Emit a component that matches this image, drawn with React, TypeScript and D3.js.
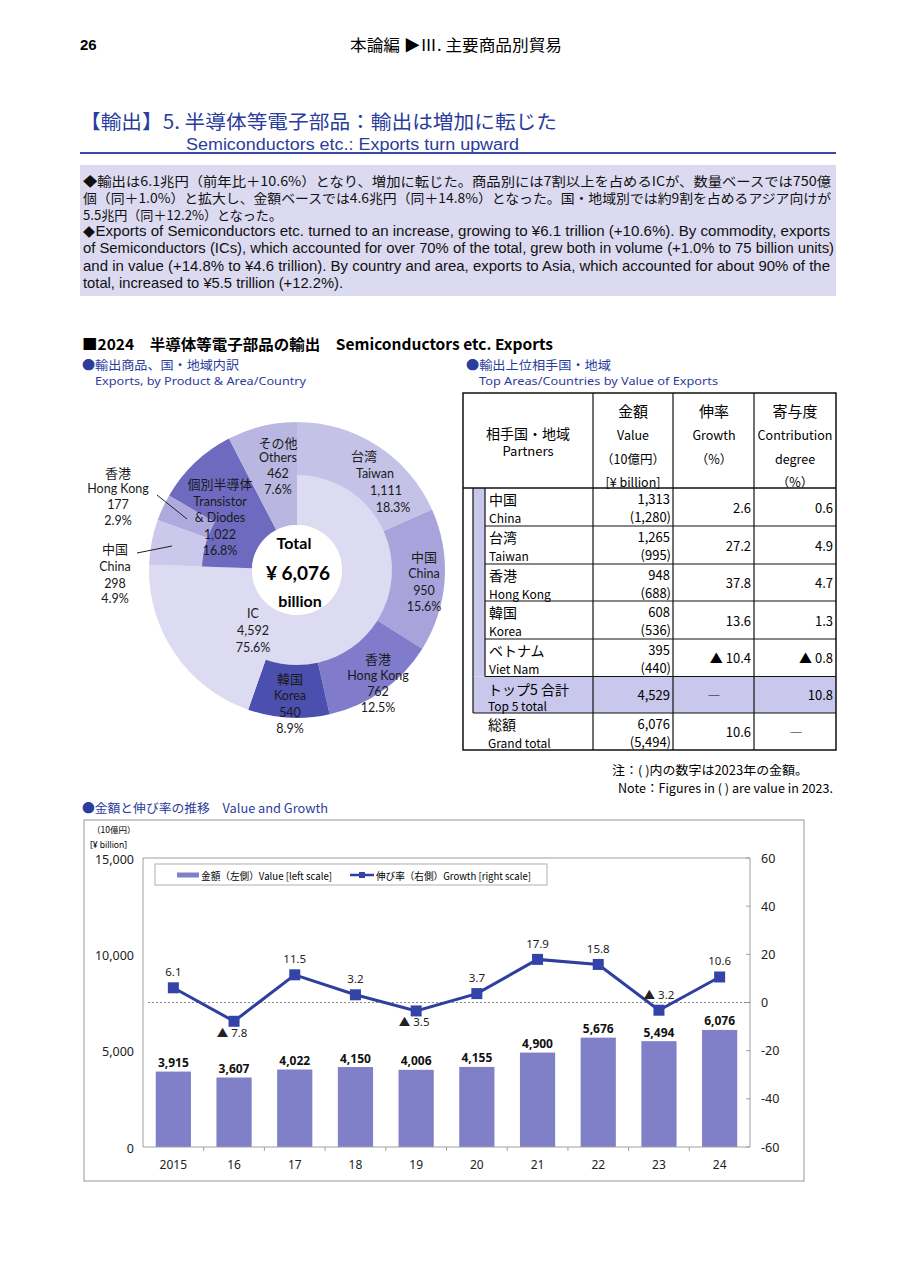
import React from 'react';
import * as d3 from 'd3';

// ---------- DATA ----------
const productNames = ['IC', '個別半導体', 'その他'];
const productValues = [4592, 1022, 462];
const icPartnerNames = ['台湾', '中国', '香港', '韓国'];
const icPartnerValues = [1111, 950, 762, 540];
const tdPartnerNames = ['中国', '香港'];
const tdPartnerValues = [298, 177];

const tablePartnersJa = ['中国', '台湾', '香港', '韓国', 'ベトナム'];
const tablePartnersEn = ['China', 'Taiwan', 'Hong Kong', 'Korea', 'Viet Nam'];
const tableValue2024 = [1313, 1265, 948, 608, 395];
const tableValue2023 = [1280, 995, 688, 536, 440];
const tableGrowth = [2.6, 27.2, 37.8, 13.6, -10.4];
const tableContribution = [0.6, 4.9, 4.7, 1.3, -0.8];
const top5Total = 4529;
const top5Contribution = 10.8;
const grandTotal2024 = 6076;
const grandTotal2023 = 5494;
const grandGrowth = 10.6;

const years = ['2015', '16', '17', '18', '19', '20', '21', '22', '23', '24'];
const exportValues = [3915, 3607, 4022, 4150, 4006, 4155, 4900, 5676, 5494, 6076];
const growthRates = [6.1, -7.8, 11.5, 3.2, -3.5, 3.7, 17.9, 15.8, -3.2, 10.6];
const growthLabelBelow = [false, true, false, false, true, false, false, false, false, false];
const leftTicks = [0, 5000, 10000, 15000];
const rightTicks = [-60, -40, -20, 0, 20, 40, 60];

// ---------- STYLE ----------
const JP = '"Noto Sans CJK JP", sans-serif';
const NARROW = '"Liberation Sans Narrow", "Liberation Sans", Arial, sans-serif';
const LAT = 'Lato, "Noto Sans CJK JP", sans-serif';
const NS = '"Noto Sans", "Noto Sans CJK JP", sans-serif';
const BLUE = '#2b3d9c';
const LAV = '#dcdaf0';

const fmt = d3.format(',');
const signed = (v: number) => (v < 0 ? '▲ ' + Math.abs(v).toFixed(1) : v.toFixed(1));

// ---------- DONUT ----------
function Donut() {
  const cx = 297, cy = 570, r0 = 45, r1 = 95, r2 = 148;
  const total = d3.sum(productValues);
  const productColors = ['#dddbf1', '#6d6ac0', '#b9b6e2'];
  const icColors = ['#c5c2e8', '#a8a4db', '#807ccb', '#4b4fae'];
  const tdColors = ['#cbc8eb', '#aeaade'];

  const outer: { v: number; c: string }[] = [];
  icPartnerValues.forEach((v, i) => outer.push({ v, c: icColors[i] }));
  outer.push({ v: productValues[0] - d3.sum(icPartnerValues), c: productColors[0] });
  tdPartnerValues.forEach((v, i) => outer.push({ v, c: tdColors[i] }));
  outer.push({ v: productValues[1] - d3.sum(tdPartnerValues), c: productColors[1] });
  outer.push({ v: productValues[2], c: productColors[2] });

  const pie = d3.pie<any>().sort(null).value((d: any) => d.v);
  const innerArcs = pie(productValues.map((v, i) => ({ v, c: productColors[i] })));
  const outerArcs = pie(outer);
  const arcIn = d3.arc<any>().innerRadius(r0).outerRadius(r1 + 0.5);
  const arcOut = d3.arc<any>().innerRadius(r1).outerRadius(r2);

  const pct = (v: number) => ((v / total) * 100).toFixed(1) + '%';
  type L = { lines: string[]; xs: number[]; ys: number[] };
  const labels: L[] = [
    { lines: [productNames[2], 'Others', fmt(productValues[2]), pct(productValues[2])], xs: [278, 278, 278, 278], ys: [442, 457, 473, 489] },
    { lines: [icPartnerNames[0], 'Taiwan', fmt(icPartnerValues[0]), pct(icPartnerValues[0])], xs: [364, 375, 386, 393], ys: [455, 473, 490, 507] },
    { lines: [icPartnerNames[1], 'China', fmt(icPartnerValues[1]), pct(icPartnerValues[1])], xs: [424, 424, 424, 424], ys: [556, 573, 590, 606] },
    { lines: [icPartnerNames[2], 'Hong Kong', fmt(icPartnerValues[2]), pct(icPartnerValues[2])], xs: [378, 378, 378, 378], ys: [658, 675, 691, 707] },
    { lines: [icPartnerNames[3], 'Korea', fmt(icPartnerValues[3]), pct(icPartnerValues[3])], xs: [290, 290, 290, 290], ys: [678, 695, 712, 728] },
    { lines: [productNames[0], fmt(productValues[0]), pct(productValues[0])], xs: [253, 253, 253], ys: [613, 630, 647] },
    { lines: [productNames[1], 'Transistor', '& Diodes', fmt(productValues[1]), pct(productValues[1])], xs: [220, 220, 220, 220, 220], ys: [483, 501, 517, 534, 550] },
    { lines: [tdPartnerNames[1], 'Hong Kong', fmt(tdPartnerValues[1]), pct(tdPartnerValues[1])], xs: [118, 118, 118, 118], ys: [472, 488, 504, 520] },
    { lines: [tdPartnerNames[0], 'China', fmt(tdPartnerValues[0]), pct(tdPartnerValues[0])], xs: [115, 115, 115, 115], ys: [548, 566, 583, 598] },
  ];
  const isJa = (s: string) => /[\u3000-\u9fff]/.test(s);

  return (
    <g>
      <g transform={`translate(${cx},${cy})`}>
        {innerArcs.map((a, i) => <path key={'i' + i} d={arcIn(a) as string} fill={(a.data as any).c} />)}
        {outerArcs.map((a, i) => <path key={'o' + i} d={arcOut(a) as string} fill={(a.data as any).c} />)}
        <circle r={r0} fill="#fff" />
      </g>
      <line x1={157} y1={495} x2={187} y2={519} stroke="#222" strokeWidth={1} />
      <line x1={137} y1={553} x2={172} y2={546} stroke="#222" strokeWidth={1} />
      {labels.map((l, i) => (
        <g key={i}>
          {l.lines.map((s, j) => (
            <text key={j} x={l.xs[j]} y={l.ys[j]} textAnchor="middle" dominantBaseline="central"
              fontFamily={isJa(s) ? JP : LAT} fontSize={isJa(s) ? 13 : 12.5} fill="#1a1a1a">{s}</text>
          ))}
        </g>
      ))}
      <text x={294} y={542} textAnchor="middle" dominantBaseline="central" fontFamily={LAT} fontWeight="bold" fontSize={16}>Total</text>
      <text x={298} y={572} textAnchor="middle" dominantBaseline="central" fontFamily={LAT} fontWeight="bold" fontSize={19}>{'¥ ' + fmt(total)}</text>
      <text x={300} y={600} textAnchor="middle" dominantBaseline="central" fontFamily={LAT} fontWeight="bold" fontSize={16}>billion</text>
    </g>
  );
}

// ---------- TABLE ----------
function Table() {
  const x0 = 463, x1 = 836, cA = 593, cB = 673, cC = 754;
  const yTop = 393, yHead = 488;
  const rowYs = [488, 526, 564, 601, 639, 676.5, 713, 750];
  const bx = 473, ix = 485;
  const st = '#111';
  const center = (a: number, b: number) => (a + b) / 2;
  return (
    <g>
      {/* lavender bracket area */}
      <rect x={bx} y={yHead} width={ix - bx} height={rowYs[5] - yHead} fill="#c9c7ec" />
      <rect x={bx} y={rowYs[5]} width={x1 - bx} height={rowYs[6] - rowYs[5]} fill="#c9c7ec" />
      {/* header text */}
      <text x={528} y={433} textAnchor="middle" dominantBaseline="central" fontFamily={JP} fontSize={14}>相手国・地域</text>
      <text x={528} y={450} textAnchor="middle" dominantBaseline="central" fontFamily={JP} fontSize={13}>Partners</text>
      {[['金額', 15], ['Value', 12.5], ['（10億円）', 12.5], ['[¥ billion]', 12.5]].map((t, i) => (
        <text key={'v' + i} x={633} y={[410, 434, 458, 481][i]} textAnchor="middle" dominantBaseline="central" fontFamily={JP} fontSize={t[1] as number}>{t[0]}</text>
      ))}
      {[['伸率', 15], ['Growth', 12.5], ['（%）', 12.5]].map((t, i) => (
        <text key={'g' + i} x={714} y={[410, 434, 458][i]} textAnchor="middle" dominantBaseline="central" fontFamily={JP} fontSize={t[1] as number}>{t[0]}</text>
      ))}
      {[['寄与度', 15], ['Contribution', 12.5], ['degree', 12.5], ['（%）', 12.5]].map((t, i) => (
        <text key={'c' + i} x={795} y={[410, 434, 458, 481][i]} textAnchor="middle" dominantBaseline="central" fontFamily={JP} fontSize={t[1] as number}>{t[0]}</text>
      ))}
      {/* rows */}
      {tablePartnersJa.map((ja, i) => {
        const a = rowYs[i], b = rowYs[i + 1];
        return (
          <g key={i}>
            <text x={489} y={a + 11} dominantBaseline="central" fontFamily={JP} fontSize={14}>{ja}</text>
            <text x={489} y={a + 29} dominantBaseline="central" fontFamily={JP} fontSize={12}>{tablePartnersEn[i]}</text>
            <text x={670} y={a + 10} textAnchor="end" dominantBaseline="central" fontFamily={JP} fontSize={13}>{fmt(tableValue2024[i])}</text>
            <text x={671} y={a + 28.5} textAnchor="end" dominantBaseline="central" fontFamily={JP} fontSize={13}>{'(' + fmt(tableValue2023[i]) + ')'}</text>
            <text x={751} y={center(a, b)} textAnchor="end" dominantBaseline="central" fontFamily={JP} fontSize={13}>{signed(tableGrowth[i])}</text>
            <text x={833} y={center(a, b)} textAnchor="end" dominantBaseline="central" fontFamily={JP} fontSize={13}>{signed(tableContribution[i])}</text>
          </g>
        );
      })}
      <text x={488} y={rowYs[5] + 12} dominantBaseline="central" fontFamily={JP} fontSize={14}>トップ5 合計</text>
      <text x={488} y={rowYs[5] + 29} dominantBaseline="central" fontFamily={JP} fontSize={12}>Top 5 total</text>
      <text x={670} y={center(rowYs[5], rowYs[6])} textAnchor="end" dominantBaseline="central" fontFamily={JP} fontSize={13}>{fmt(top5Total)}</text>
      <text x={714} y={center(rowYs[5], rowYs[6])} textAnchor="middle" dominantBaseline="central" fontFamily={JP} fontSize={13}>―</text>
      <text x={833} y={center(rowYs[5], rowYs[6])} textAnchor="end" dominantBaseline="central" fontFamily={JP} fontSize={13}>{top5Contribution.toFixed(1)}</text>
      <text x={488} y={rowYs[6] + 11} dominantBaseline="central" fontFamily={JP} fontSize={14}>総額</text>
      <text x={488} y={rowYs[6] + 29} dominantBaseline="central" fontFamily={JP} fontSize={12}>Grand total</text>
      <text x={670} y={rowYs[6] + 10} textAnchor="end" dominantBaseline="central" fontFamily={JP} fontSize={13}>{fmt(grandTotal2024)}</text>
      <text x={671} y={rowYs[6] + 28.5} textAnchor="end" dominantBaseline="central" fontFamily={JP} fontSize={13}>{'(' + fmt(grandTotal2023) + ')'}</text>
      <text x={751} y={center(rowYs[6], rowYs[7])} textAnchor="end" dominantBaseline="central" fontFamily={JP} fontSize={13}>{grandGrowth.toFixed(1)}</text>
      <text x={796} y={center(rowYs[6], rowYs[7])} textAnchor="middle" dominantBaseline="central" fontFamily={JP} fontSize={13}>―</text>
      {/* lines */}
      <rect x={x0} y={yTop} width={x1 - x0} height={rowYs[7] - yTop} fill="none" stroke={st} strokeWidth={1.5} />
      <line x1={x0} y1={yHead} x2={x1} y2={yHead} stroke={st} strokeWidth={1.3} />
      {[cA, cB, cC].map((c) => <line key={c} x1={c} y1={yTop} x2={c} y2={rowYs[7]} stroke={st} strokeWidth={1.2} />)}
      <line x1={bx} y1={yHead} x2={bx} y2={rowYs[6]} stroke={st} strokeWidth={1.2} />
      <line x1={ix} y1={yHead} x2={ix} y2={rowYs[5]} stroke={st} strokeWidth={1.2} />
      {[1, 2, 3, 4, 5].map((k) => <line key={k} x1={ix} y1={rowYs[k]} x2={x1} y2={rowYs[k]} stroke={st} strokeWidth={1.2} />)}
      <line x1={bx} y1={rowYs[6]} x2={x1} y2={rowYs[6]} stroke={st} strokeWidth={1.2} />
      {/* notes */}
      <text x={612} y={769} dominantBaseline="central" fontFamily={JP} fontSize={12.5} textLength={196} lengthAdjust="spacingAndGlyphs">注：( )内の数字は2023年の金額。</text>
      <text x={618} y={787} dominantBaseline="central" fontFamily={JP} fontSize={12.5} textLength={215} lengthAdjust="spacingAndGlyphs">Note：Figures in ( ) are value in 2023.</text>
    </g>
  );
}

// ---------- BAR + LINE ----------
function Combo() {
  const px0 = 143, px1 = 750, pyTop = 858, pyBot = 1147;
  const x = d3.scaleBand<string>().domain(years).range([px0, px1]).paddingInner(0.42).paddingOuter(0.21);
  const yL = d3.scaleLinear().domain([0, 15000]).range([pyBot, pyTop]);
  const yR = d3.scaleLinear().domain([-60, 60]).range([pyBot, pyTop]);
  const cxOf = (y: string) => (x(y) as number) + x.bandwidth() / 2;
  const line = d3.line<number>().x((_, i) => cxOf(years[i])).y((d) => yR(d));
  const step = x.step();
  const LINEC = '#2e3f9f';
  return (
    <g>
      <rect x={84} y={820} width={720} height={361} fill="#fff" stroke="#a8a8a8" strokeWidth={1.2} />
      <text x={92} y={829} dominantBaseline="central" fontFamily={JP} fontSize={8.5}>（10億円）</text>
      <text x={90} y={844} dominantBaseline="central" fontFamily={NS} fontSize={8.5}>[¥ billion]</text>
      {/* plot border */}
      <line x1={px0} y1={pyTop} x2={px1} y2={pyTop} stroke="#a0a0a0" />
      <line x1={px0} y1={pyTop} x2={px0} y2={pyBot} stroke="#a0a0a0" />
      <line x1={px1} y1={pyTop} x2={px1} y2={pyBot} stroke="#a0a0a0" />
      {rightTicks.map((t) => (
        <g key={t}>
          <line x1={px1 - 4} y1={yR(t)} x2={px1} y2={yR(t)} stroke="#a0a0a0" />
          <text x={761} y={yR(t)} dominantBaseline="central" fontFamily={NS} fontSize={12.5} fill="#222">{t}</text>
        </g>
      ))}
      {leftTicks.map((t) => (
        <text key={t} x={134} y={yL(t) + 1} textAnchor="end" dominantBaseline="central" fontFamily={NS} fontSize={12.5} fill="#222">{fmt(t)}</text>
      ))}
      {/* bars */}
      {exportValues.map((v, i) => (
        <g key={i}>
          <rect x={x(years[i])} y={yL(v)} width={x.bandwidth()} height={pyBot - yL(v)} fill="#7f80c8" />
          <text x={cxOf(years[i])} y={yL(v) - 9} textAnchor="middle" dominantBaseline="central" fontFamily={NS} fontWeight="bold" fontSize={12} fill="#111">{fmt(v)}</text>
        </g>
      ))}
      <line x1={px0} y1={pyBot} x2={px1} y2={pyBot} stroke="#a0a0a0" />
      {years.slice(1).map((y, i) => (
        <line key={y} x1={px0 + (i + 1) * step} y1={pyBot} x2={px0 + (i + 1) * step} y2={pyBot + 4} stroke="#a0a0a0" />
      ))}
      {years.map((y) => (
        <text key={y} x={cxOf(y)} y={1164} textAnchor="middle" dominantBaseline="central" fontFamily={NS} fontSize={12} fill="#222">{y}</text>
      ))}
      {/* zero line */}
      <line x1={148} y1={yR(0)} x2={px1} y2={yR(0)} stroke="#888" strokeWidth={1.2} strokeDasharray="2,2" />
      {/* growth line */}
      <path d={line(growthRates) as string} fill="none" stroke={LINEC} strokeWidth={3} />
      {growthRates.map((g, i) => (
        <g key={i}>
          <rect x={cxOf(years[i]) - 5.5} y={yR(g) - 5.5} width={11} height={11} fill="#3343a8" />
          <text x={cxOf(years[i]) + (growthLabelBelow[i] ? -2 : 0)} y={yR(g) + (growthLabelBelow[i] ? 11 : -16)} textAnchor="middle" dominantBaseline="central" fontFamily={NS} fontSize={11.5} fill="#222">{signed(g)}</text>
        </g>
      ))}
      {/* legend */}
      <rect x={155} y={864} width={392} height={21} fill="#fff" stroke="#b0b0b0" />
      <rect x={177} y={872.5} width={22} height={5} fill="#7f80c8" />
      <text x={201} y={875} dominantBaseline="central" fontFamily={JP} fontSize={10} textLength={131} lengthAdjust="spacingAndGlyphs">金額（左側）Value [left scale]</text>
      <line x1={350} y1={875} x2={374} y2={875} stroke={LINEC} strokeWidth={2.5} />
      <rect x={359} y={872} width={6} height={6} fill="#3343a8" />
      <text x={376} y={875} dominantBaseline="central" fontFamily={JP} fontSize={10} textLength={155} lengthAdjust="spacingAndGlyphs">伸び率（右側）Growth [right scale]</text>
    </g>
  );
}

const textLines = [
  '◆輸出は6.1兆円（前年比＋10.6%）となり、増加に転じた。商品別には7割以上を占めるICが、数量ベースでは750億',
  '個（同＋1.0%）と拡大し、金額ベースでは4.6兆円（同＋14.8%）となった。国・地域別では約9割を占めるアジア向けが',
  '5.5兆円（同＋12.2%）となった。',
  '◆Exports of Semiconductors etc. turned to an increase, growing to ¥6.1 trillion (+10.6%). By commodity, exports',
  'of Semiconductors (ICs), which accounted for over 70% of the total, grew both in volume (+1.0% to 75 billion units)',
  'and in value (+14.8% to ¥4.6 trillion). By country and area, exports to Asia, which accounted for about 90% of the',
  'total, increased to ¥5.5 trillion (+12.2%).',
];
const textLineEnds = [831, 831, 282, 830, 834, 830, 343];

export default function App() {
  return (
    <div style={{ position: 'absolute', left: 0, top: 0 }}>
      <svg width={916} height={1280} viewBox="0 0 916 1280" style={{ display: 'block', background: '#fff' }}>
        {/* page header */}
        <text x={80} y={44} dominantBaseline="central" fontFamily='"Liberation Sans", Arial, sans-serif' fontWeight="bold" fontSize={15}>26</text>
        <text x={456} y={44} textAnchor="middle" dominantBaseline="central" fontFamily={JP} fontSize={15.5} textLength={212} lengthAdjust="spacingAndGlyphs">本論編 ▶Ⅲ. 主要商品別貿易</text>
        {/* title */}
        <text x={80} y={120} dominantBaseline="central" fontFamily={JP} fontSize={19.5} fill={BLUE} textLength={477} lengthAdjust="spacingAndGlyphs">【輸出】5. 半導体等電子部品：輸出は増加に転じた</text>
        <text x={186} y={144} dominantBaseline="central" fontFamily={NARROW} fontSize={16} fill={BLUE} textLength={333} lengthAdjust="spacingAndGlyphs">Semiconductors etc.: Exports turn upward</text>
        <line x1={80} y1={153} x2={836} y2={153} stroke="#3b4aa6" strokeWidth={2} />
        {/* text box */}
        <rect x={80} y={165} width={756} height={131} fill={LAV} />
        {textLines.map((s, i) => (
          <text key={i} x={83} y={[180, 197, 214, 231, 248, 266, 283][i]} dominantBaseline="central"
            fontFamily={i < 3 ? JP : NARROW} fontSize={i < 3 ? 13 : 14.5} fill="#111"
            textLength={textLineEnds[i] - 83} lengthAdjust="spacingAndGlyphs">{s}</text>
        ))}
        {/* section heading */}
        <text x={82} y={343} dominantBaseline="central" fontFamily={JP} fontWeight="bold" fontSize={15} textLength={471} lengthAdjust="spacingAndGlyphs">■2024　半導体等電子部品の輸出　Semiconductors etc. Exports</text>
        <text x={82} y={364} dominantBaseline="central" fontFamily={JP} fontSize={12.5} fill={BLUE} textLength={157} lengthAdjust="spacingAndGlyphs">●輸出商品、国・地域内訳</text>
        <text x={95} y={380} dominantBaseline="central" fontFamily={NS} fontSize={11.5} fill={BLUE} textLength={211} lengthAdjust="spacingAndGlyphs">Exports, by Product &amp; Area/Country</text>
        <text x={466} y={364} dominantBaseline="central" fontFamily={JP} fontSize={12.5} fill={BLUE} textLength={145} lengthAdjust="spacingAndGlyphs">●輸出上位相手国・地域</text>
        <text x={479} y={380} dominantBaseline="central" fontFamily={NS} fontSize={11.5} fill={BLUE} textLength={239} lengthAdjust="spacingAndGlyphs">Top Areas/Countries by Value of Exports</text>
        <Donut />
        <Table />
        <text x={82} y={807} dominantBaseline="central" fontFamily={JP} fontSize={12.5} fill={BLUE} textLength={246} lengthAdjust="spacingAndGlyphs">●金額と伸び率の推移　Value and Growth</text>
        <Combo />
      </svg>
    </div>
  );
}
